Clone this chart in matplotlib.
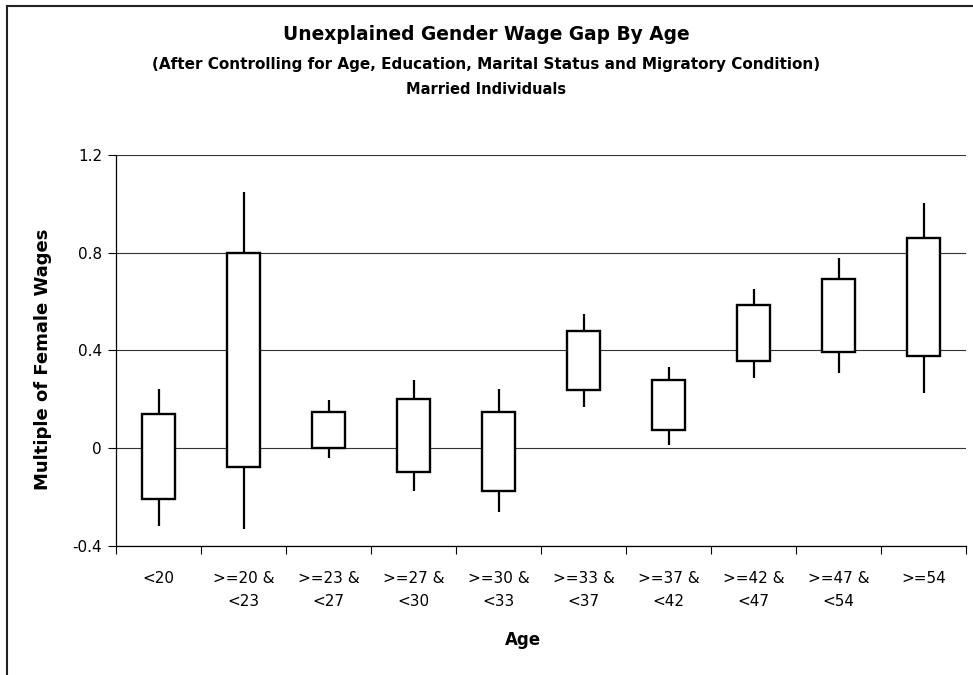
import matplotlib.pyplot as plt
from matplotlib.lines import Line2D

plt.rcParams['font.family'] = ['DejaVu Sans']

# age groups and the stock-style values (high, low, box top, box bottom)
age_groups = ['<20', '>=20 &\n<23', '>=23 &\n<27', '>=27 &\n<30', '>=30 &\n<33',
              '>=33 &\n<37', '>=37 &\n<42', '>=42 &\n<47', '>=47 &\n<54', '>=54']
whisker_high = [0.24, 1.05, 0.195, 0.28, 0.24, 0.55, 0.33, 0.65, 0.78, 1.005]
box_top = [0.14, 0.80, 0.147, 0.199, 0.147, 0.48, 0.28, 0.587, 0.692, 0.86]
box_bottom = [-0.209, -0.078, 0.0, -0.098, -0.175, 0.239, 0.074, 0.356, 0.395, 0.375]
whisker_low = [-0.318, -0.33, -0.041, -0.178, -0.264, 0.168, 0.011, 0.287, 0.307, 0.226]
y_ticks = [-0.4, 0, 0.4, 0.8, 1.2]
y_tick_labels = ['-0.4', '0', '0.4', '0.8', '1.2']

W, H = 973, 675
fig = plt.figure(figsize=(W / 100, H / 100), dpi=100)
ax = fig.add_axes([116 / W, 1 - 545.7 / H, (966 - 116) / W, (545.7 - 155) / H])

x = list(range(len(age_groups)))

# whiskers first, boxes on top
for i in x:
    ax.plot([i, i], [whisker_low[i], box_bottom[i]], color='black', lw=1.6, solid_capstyle='butt', zorder=3)
    ax.plot([i, i], [box_top[i], whisker_high[i]], color='black', lw=1.6, solid_capstyle='butt', zorder=3)

heights = [t - b for t, b in zip(box_top, box_bottom)]
ax.bar(x, heights, bottom=box_bottom, width=0.38, color='white', edgecolor='black', linewidth=1.7, zorder=4)

ax.set_xlim(-0.5, len(age_groups) - 0.5)
ax.set_ylim(-0.4, 1.2)
ax.set_yticks(y_ticks)
ax.set_yticklabels(y_tick_labels)
ax.yaxis.grid(True, color='#333333', linewidth=0.8)
ax.set_axisbelow(True)

ax.set_xticks(x)
ax.set_xticklabels(age_groups, linespacing=1.7)
ax.set_xticks([i - 0.5 for i in range(len(age_groups) + 1)], minor=True)
ax.tick_params(axis='x', which='major', length=0, pad=18, labelsize=11)
ax.tick_params(axis='x', which='minor', length=6, width=0.8, direction='out')
ax.tick_params(axis='y', length=6, width=0.8, direction='out', labelsize=11, pad=4)

for s in ['top', 'right']:
    ax.spines[s].set_visible(False)
for s in ['left', 'bottom']:
    ax.spines[s].set_linewidth(0.9)

ax.text((43 - 116) / 850, (545.7 - 359.5) / 390.7, 'Multiple of Female Wages', transform=ax.transAxes,
        rotation=90, ha='center', va='center', fontsize=13, fontweight='bold')
ax.text((523 - 116) / 850, -(640 - 545.7) / 390.7, 'Age', transform=ax.transAxes,
        ha='center', va='center', fontsize=12, fontweight='bold')

fig.text(0.5, 1 - 35 / H, 'Unexplained Gender Wage Gap By Age', ha='center', va='center',
         fontsize=13.4, fontweight='bold')
fig.text(0.5, 1 - 65 / H, '(After Controlling for Age, Education, Marital Status and Migratory Condition)',
         ha='center', va='center', fontsize=11, fontweight='bold')
fig.text(0.5, 1 - 89 / H, 'Married Individuals', ha='center', va='center', fontsize=10.5, fontweight='bold')

# chart area border, cut off on the right and bottom
fx = 7 / W
fy = 1 - 6 / H
fig.add_artist(Line2D([fx, fx], [0, fy], color='#222222', lw=1.5))
fig.add_artist(Line2D([fx, 1], [fy, fy], color='#222222', lw=1.5))

fig.savefig('out.png', dpi=100)
